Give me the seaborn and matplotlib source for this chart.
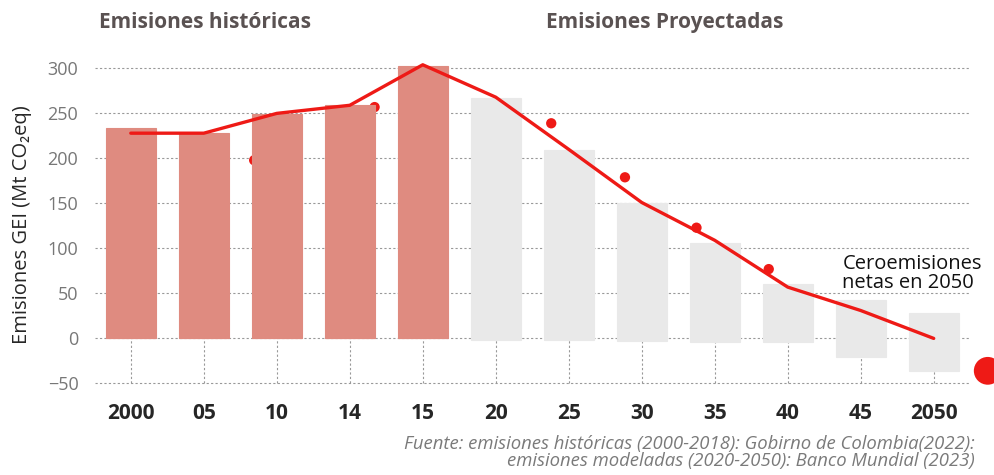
import pandas as pd
import seaborn as sns
import matplotlib.pyplot as plt
import numpy as np

# data
years = ['2000', '05', '10', '14', '15', '20', '25', '30', '35', '40', '45', '2050']
period = ['hist'] * 5 + ['proj'] * 7
bar_top = [234, 228, 249, 259, 303, 267, 209, 150, 106, 61, 43, 28]
bar_bottom = [0, 0, 0, 0, 0, -2, -2, -3, -4, -4, -21, -36]
line_vals = [228, 228, 250, 259, 304, 268, 210, 151, 109, 57, 31, 0]

# red dots sit between categories (positions in category units)
dot_x = [1.69, 3.34, 5.76, 6.77, 7.75, 8.74]
dot_y = [198, 257, 239, 179, 123, 77]
big_dot_x = [11.74]
big_dot_y = [-36]

hist_color = '#df8b80'
proj_color = '#e9e9e9'
red = '#ee1a16'

df = pd.DataFrame({'year': years, 'period': period,
                   'top': bar_top, 'bottom': bar_bottom})
idx = np.arange(len(years))

sns.set_style('white')
plt.rcParams['font.family'] = ['Open Sans', 'DejaVu Sans']

fig = plt.figure(figsize=(9.94, 4.75), dpi=100)
ax = fig.add_axes([0.0956, 0.189, 0.879, 0.686])

pal = {'hist': hist_color, 'proj': proj_color}
sns.barplot(data=df, x='year', y='top', hue='period', palette=pal, dodge=False,
            width=0.68, saturation=1, legend=False, ax=ax, zorder=3)
sns.barplot(data=df, x='year', y='bottom', hue='period', palette=pal, dodge=False,
            width=0.68, saturation=1, legend=False, ax=ax, zorder=3)
# hide the seam between the positive and negative parts
for p in ax.patches:
    p.set_edgecolor(p.get_facecolor())
    p.set_linewidth(0.8)

# dotted stubs below the bars
ax.vlines(idx, -50, 0, colors='#999999', linestyles=(0, (2, 2)), lw=0.8, zorder=1)

sns.scatterplot(x=dot_x, y=dot_y, color=red, s=55, edgecolor='none', ax=ax, zorder=2)
sns.lineplot(x=idx, y=line_vals, color=red, lw=2.4, ax=ax, zorder=5)
sns.scatterplot(x=big_dot_x, y=big_dot_y, color=red, s=400, edgecolor='none', ax=ax,
                zorder=6, clip_on=False)

ax.set_ylim(-52, 310)
ax.set_xlim(-0.49, 11.48)
ax.set_yticks([-50, 0, 50, 100, 150, 200, 250, 300])
ax.yaxis.grid(True, linestyle=(0, (2, 2)), color='#999999', lw=0.8)
ax.xaxis.grid(False)
ax.set_axisbelow(True)
sns.despine(ax=ax, left=True, bottom=True)
ax.tick_params(axis='both', length=0)
ax.tick_params(axis='y', pad=12, labelsize=13, labelcolor='#777777')
ax.tick_params(axis='x', pad=13, labelsize=15)
for t in ax.get_xticklabels():
    t.set_fontweight('bold')
ax.set_xlabel('')
ax.set_ylabel('Emisiones GEI (Mt CO₂eq)', fontsize=14.5)
ax.yaxis.set_label_coords(-0.072, 0.494)

fig.text(0.206, 0.952, 'Emisiones históricas', ha='center', va='center',
         fontsize=15, fontweight='bold', color='#5a5252')
fig.text(0.669, 0.952, 'Emisiones Proyectadas', ha='center', va='center',
         fontsize=15, fontweight='bold', color='#5a5252')

ax.text(9.75, 72, 'Ceroemisiones\nnetas en 2050', ha='left', va='center',
        fontsize=14.5, linespacing=0.9, color='#111111')

fig.text(0.981, 0.047, 'Fuente: emisiones históricas (2000-2018): Gobirno de Colombia(2022):\n'
         'emisiones modeladas (2020-2050): Banco Mundial (2023)',
         ha='right', va='center', fontsize=13.3, style='italic', color='#7a7a7a',
         linespacing=0.92)

fig.savefig('out.png', dpi=100)
